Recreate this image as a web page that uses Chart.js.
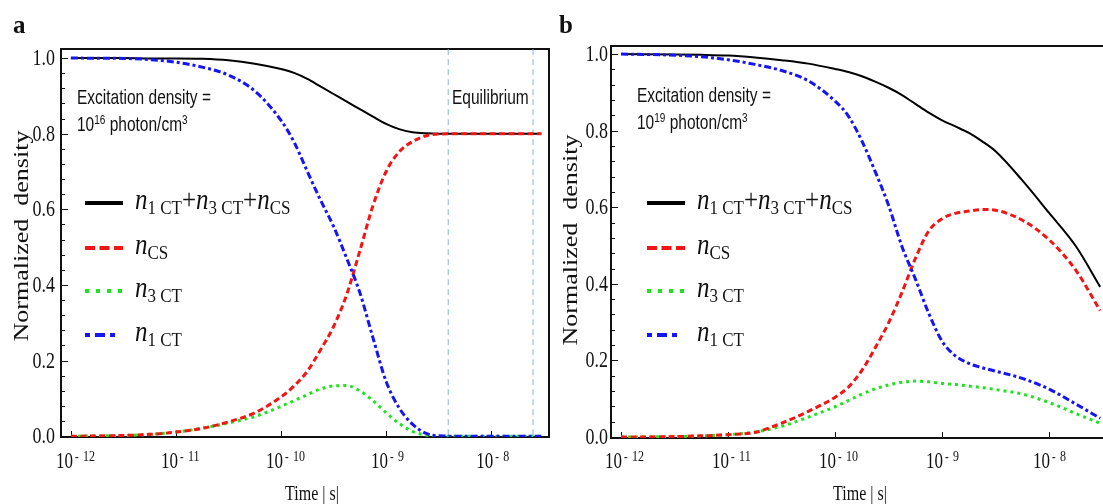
<!DOCTYPE html>
<html>
<head>
<meta charset="utf-8">
<title>Normalized density vs time</title>
<script src="https://cdn.jsdelivr.net/npm/chart.js@4.4.1/dist/chart.umd.min.js"></script>
<style>
    html, body { margin: 0; padding: 0; background: #fff; overflow: hidden; }
    body { width: 1103px; height: 504px; position: relative; }
    canvas { position: absolute; top: 0; }
    #panelA { left: 0; }
    #panelB { left: 550px; }
</style>
</head>
<body>
<canvas id="panelA" width="560" height="504"></canvas>
<canvas id="panelB" width="570" height="504"></canvas>
<script>
// sample times in seconds (shared by both panels)
var times = [1e-12, 3.16e-12, 5.62e-12, 1e-11, 1.78e-11, 3.16e-11, 5.62e-11, 1e-10, 1.33e-10, 1.78e-10,
    2.37e-10, 3.16e-10, 4.22e-10, 5.62e-10, 7.5e-10, 1e-9, 1.33e-9, 1.78e-9, 2.37e-9, 3.16e-9,
    5.62e-9, 1e-8, 1.78e-8, 3e-8];

// panel a, excitation 10^16 photon/cm3
var totalA = [1.0, 1.0, 0.999, 0.999, 0.998, 0.994, 0.985, 0.971, 0.961, 0.945, 0.925, 0.905, 0.885, 0.865,
    0.845, 0.826, 0.812, 0.804, 0.801, 0.8, 0.8, 0.8, 0.8, 0.8];
var csA = [0, 0.002, 0.005, 0.011, 0.021, 0.038, 0.062, 0.104, 0.133, 0.172, 0.228, 0.29, 0.375, 0.49,
    0.61, 0.70, 0.752, 0.779, 0.794, 0.799, 0.8, 0.8, 0.8, 0.8];
var ct3A = [0, 0.002, 0.005, 0.011, 0.021, 0.035, 0.052, 0.079, 0.094, 0.11, 0.125, 0.133, 0.134, 0.12,
    0.094, 0.062, 0.034, 0.013, 0.003, 0, 0, 0, 0, 0];
var ct1A = [1.0, 0.999, 0.996, 0.989, 0.976, 0.955, 0.913, 0.835, 0.778, 0.70, 0.625, 0.555, 0.47, 0.38,
    0.26, 0.145, 0.075, 0.032, 0.008, 0.001, 0, 0, 0, 0];

// panel b, excitation 10^19 photon/cm3
var totalB = [1.0, 0.999, 0.998, 0.996, 0.991, 0.984, 0.975, 0.961, 0.953, 0.942, 0.928, 0.912, 0.893, 0.87,
    0.847, 0.827, 0.811, 0.794, 0.772, 0.746, 0.67, 0.585, 0.498, 0.392];
var csB = [0, 0.001, 0.003, 0.006, 0.012, 0.036, 0.067, 0.104, 0.13, 0.174, 0.233, 0.298, 0.378, 0.466,
    0.538, 0.57, 0.584, 0.59, 0.594, 0.592, 0.566, 0.515, 0.435, 0.33];
var ct3B = [0, 0.001, 0.003, 0.006, 0.013, 0.028, 0.052, 0.079, 0.095, 0.112, 0.126, 0.136, 0.143, 0.146,
    0.144, 0.14, 0.137, 0.133, 0.129, 0.124, 0.112, 0.09, 0.061, 0.036];
var ct1B = [1.0, 0.997, 0.993, 0.985, 0.973, 0.957, 0.93, 0.877, 0.838, 0.773, 0.693, 0.605, 0.497, 0.413,
    0.323, 0.25, 0.212, 0.192, 0.181, 0.172, 0.153, 0.125, 0.086, 0.049];

// equilibrium window (panel a)
var equilibriumTimes = [3.9e-9, 2.5e-8];

// axis ticks
var xTickValues = [1e-12, 1e-11, 1e-10, 1e-9, 1e-8];
var xTickExponents = ['12', '11', '10', '9', '8'];
var yTickValues = [0, 0.2, 0.4, 0.6, 0.8, 1.0];

var SERIF = '"Liberation Serif", "Times New Roman", Times, serif';
var SANS = '"Liberation Sans", Arial, sans-serif';
var STRETCH = 1.3;  // lettering is tall and narrow

var COLORS = { total: '#000', cs: 'rgb(245,20,20)', ct3: 'rgb(30,228,30)', ct1: 'rgb(20,20,245)' };

function textAt(ctx, str, x, y, font, align, sy) {
    ctx.save();
    ctx.font = font;
    ctx.textAlign = align || 'left';
    ctx.textBaseline = 'alphabetic';
    ctx.fillStyle = '#111';
    ctx.translate(x, y);
    ctx.scale(1, sy || STRETCH);
    ctx.fillText(str, 0, 0);
    ctx.restore();
}

// pieces are [text, font, dy]; drawn one after another
function richText(ctx, parts, x, y, sy) {
    parts.forEach(function (p) {
        textAt(ctx, p[0], x, y + (p[2] || 0), p[1], 'left', sy);
        ctx.font = p[1];
        x += ctx.measureText(p[0]).width;
    });
    return x;
}

var IT = 'italic 25px ' + SERIF, RM = '25px ' + SERIF, SUB = '17px ' + SERIF;
function nSub(s) { return [['n', IT], [s, SUB, 5]]; }

var legendRows = [
    { parts: nSub('1 CT').concat([['+', RM]], nSub('3 CT'), [['+', RM]], nSub('CS')), color: COLORS.total, dash: [], len: 38 },
    { parts: nSub('CS'), color: COLORS.cs, dash: [10, 4.5], len: 38 },
    { parts: nSub('3 CT'), color: COLORS.ct3, dash: [4, 7], len: 37 },
    { parts: nSub('1 CT'), color: COLORS.ct1, dash: [5, 5, 10, 5], len: 30 }
];
var legendY = [203, 248, 291, 335];

function line(values, color, dash, width) {
    return {
        data: times.map(function (t, i) { return { x: t, y: values[i] }; }),
        borderColor: color,
        borderDash: dash,
        borderWidth: width,
        borderCapStyle: 'butt',
        pointRadius: 0,
        fill: false,
        cubicInterpolationMode: 'monotone'
    };
}

function decorPlugin(o) {
    return {
        id: 'panelDecor',
        beforeDatasetsDraw: function (chart) {
            var ctx = chart.ctx, a = chart.chartArea, x = chart.scales.x, y = chart.scales.y;
            ctx.save();
            ctx.strokeStyle = '#111';
            ctx.lineWidth = 2;
            ctx.strokeRect(a.left, a.top, a.right - a.left, a.bottom - a.top);
            ctx.lineWidth = 1;
            ctx.beginPath();
            for (var k = 0; k <= 25; k++) {
                var py = Math.round(y.getPixelForValue(k * 0.04)) + 0.5;
                ctx.moveTo(a.left, py);
                ctx.lineTo(a.left + (k % 5 === 0 ? 7 : 4), py);
            }
            xTickValues.forEach(function (v) {
                var px = Math.round(x.getPixelForValue(v)) + 0.5;
                ctx.moveTo(px, a.bottom);
                ctx.lineTo(px, a.bottom - 6);
            });
            ctx.stroke();
            ctx.restore();
        },
        afterDraw: function (chart) {
            var ctx = chart.ctx, x = chart.scales.x, y = chart.scales.y;

            // tick labels
            yTickValues.forEach(function (v) {
                textAt(ctx, v.toFixed(1), o.yLabelRight, y.getPixelForValue(v) + 7, '18px ' + SERIF, 'right');
            });
            xTickValues.forEach(function (v, i) {
                var px = x.getPixelForValue(v) + o.xLabelShift;
                textAt(ctx, '10', px, 468, '17px ' + SERIF, 'right');
                textAt(ctx, '-', px + 2, 461, '11px ' + SERIF, 'left');
                textAt(ctx, xTickExponents[i], px + 10, 461, '12px ' + SERIF, 'left');
            });

            // axis titles
            textAt(ctx, 'Time | s|', o.xTitleX, 500, '16px ' + SERIF, 'center');
            ctx.save();
            ctx.translate(o.yTitleX, o.yTitleY);
            ctx.rotate(-Math.PI / 2);
            ctx.scale(STRETCH, 1);
            ctx.font = '20px ' + SERIF;
            ctx.fillStyle = '#111';
            ctx.textAlign = 'center';
            ctx.textBaseline = 'middle';
            ctx.fillText('Normalized  density', 0, 0);
            ctx.restore();

            // panel letter
            textAt(ctx, o.letter, o.letterX, 33, 'bold 25px ' + SERIF, 'left', 1);

            // excitation note
            textAt(ctx, 'Excitation density =', o.noteX, o.noteY, '15.5px ' + SANS, 'left', 1.25);
            richText(ctx, [['10', '15.5px ' + SANS], [o.exponent, '10px ' + SANS, -7],
                [' photon/cm', '15.5px ' + SANS], ['3', '10px ' + SANS, -7]], o.noteX, o.noteY + 27, 1.25);
            if (o.equilibriumX) {
                textAt(ctx, 'Equilibrium', o.equilibriumX, o.noteY, '15.5px ' + SANS, 'left', 1.25);
            }

            // legend
            legendRows.forEach(function (row, i) {
                var cy = legendY[i];
                ctx.save();
                ctx.strokeStyle = row.color;
                ctx.lineWidth = 4;
                ctx.lineCap = 'butt';
                ctx.setLineDash(row.dash);
                ctx.beginPath();
                ctx.moveTo(o.legendX0, cy);
                ctx.lineTo(o.legendX0 + row.len, cy);
                ctx.stroke();
                ctx.restore();
                richText(ctx, row.parts, o.legendTextX, cy + 6, 1.15);
            });
        }
    };
}

function buildPanel(canvasId, s, o) {
    var datasets = [
        line(s.ct1, COLORS.ct1, [7, 3, 3, 3], 3),
        line(s.cs, COLORS.cs, [6, 3.5], 3),
        line(s.ct3, COLORS.ct3, [3, 4], 3),
        line(s.total, COLORS.total, [], 2)
    ];
    (o.markers || []).forEach(function (t) {
        datasets.push({
            data: [{ x: t, y: -0.05 }, { x: t, y: 1.1 }],
            borderColor: 'rgb(135,180,225)',
            borderWidth: 1,
            borderDash: [6, 4],
            pointRadius: 0
        });
    });
    return new Chart(document.getElementById(canvasId), {
        type: 'line',
        data: { datasets: datasets },
        options: {
            responsive: false,
            animation: false,
            events: [],
            layout: { padding: o.padding },
            scales: {
                x: { type: 'logarithmic', min: 8.05e-13, max: 3.55e-8, display: false },
                y: { type: 'linear', min: o.yMin, max: o.yMax, display: false }
            },
            plugins: { legend: { display: false }, tooltip: { enabled: false } }
        },
        plugins: [decorPlugin(o)]
    });
}

buildPanel('panelA', { total: totalA, cs: csA, ct3: ct3A, ct1: ct1A }, {
    padding: { left: 61, top: 49, right: 11, bottom: 67 },
    yMin: -0.002, yMax: 1.024,
    letter: 'a', letterX: 13,
    yTitleX: 23, yTitleY: 236, xTitleX: 312,
    yLabelRight: 55, xLabelShift: 2,
    noteX: 77, noteY: 104, exponent: '16', equilibriumX: 452,
    legendX0: 85, legendTextX: 135,
    markers: equilibriumTimes
});

buildPanel('panelB', { total: totalB, cs: csB, ct3: ct3B, ct1: ct1B }, {
    padding: { left: 61, top: 46, right: 12, bottom: 66 },
    yMin: -0.0026, yMax: 1.021,
    letter: 'b', letterX: 9,
    yTitleX: 22, yTitleY: 240, xTitleX: 310,
    yLabelRight: 58, xLabelShift: 1,
    noteX: 87, noteY: 102, exponent: '19',
    legendX0: 97, legendTextX: 147
});
</script>
</body>
</html>
